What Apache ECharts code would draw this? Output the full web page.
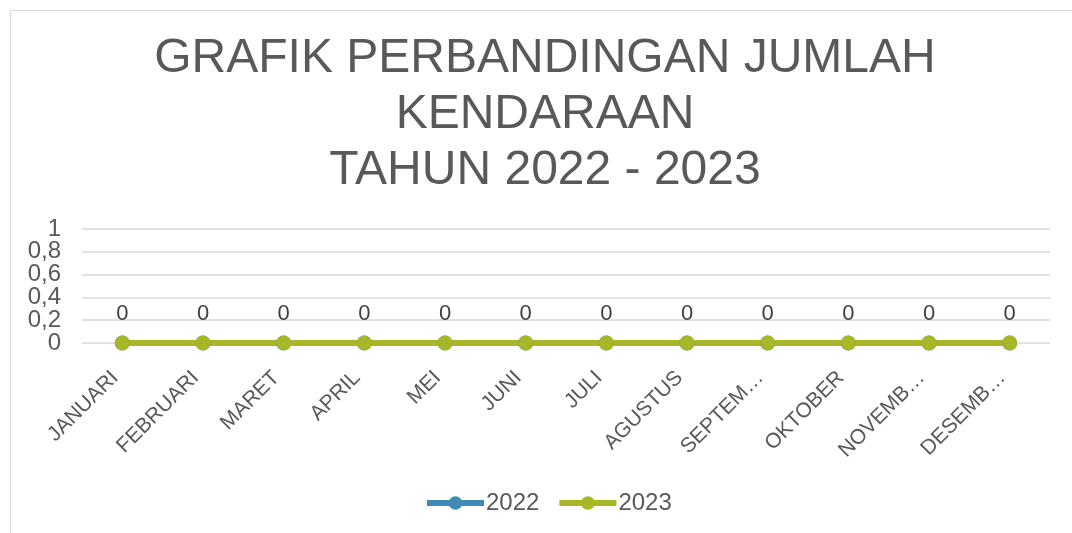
<!DOCTYPE html>
<html>
<head>
<meta charset="utf-8">
<script src="https://cdn.jsdelivr.net/npm/echarts@6/dist/echarts.min.js"></script>
<style>
  html, body { margin: 0; padding: 0; background: #fff; }
  #frame { position: absolute; left: 10px; top: 10px; width: 1100px; height: 560px; border: 1.5px solid #d9d9d9; box-sizing: border-box; }
  #chart { position: absolute; left: 0; top: 0; width: 1072px; height: 533px; }
</style>
</head>
<body>
<div id="frame"></div>
<div id="chart"></div>
<script>
const titleText = 'GRAFIK PERBANDINGAN JUMLAH\nKENDARAAN\nTAHUN 2022 - 2023';
const categories = ['JANUARI', 'FEBRUARI', 'MARET', 'APRIL', 'MEI', 'JUNI', 'JULI', 'AGUSTUS', 'SEPTEM\u2026', 'OKTOBER', 'NOVEMB\u2026', 'DESEMB\u2026'];
const seriesNames = ['2022', '2023'];
const values2022 = [0, 0, 0, 0, 0, 0, 0, 0, 0, 0, 0, 0];
const values2023 = [0, 0, 0, 0, 0, 0, 0, 0, 0, 0, 0, 0];
const yTickLabels = ['0', '0,2', '0,4', '0,6', '0,8', '1'];

const FONT = "'Liberation Sans', Arial, sans-serif";
const chart = echarts.init(document.getElementById('chart'));
chart.setOption({
  backgroundColor: 'transparent',
  animation: false,
  textStyle: { fontFamily: FONT },
  title: {
    text: titleText,
    left: 545,
    textAlign: 'center',
    top: 31,
    padding: 0,
    textStyle: { fontFamily: FONT, fontSize: 48, fontWeight: 'normal', color: '#595959', lineHeight: 56 }
  },
  grid: { left: 82, right: 22, top: 229, bottom: 190, containLabel: false },
  legend: {
    data: seriesNames,
    top: 491,
    left: 424,
    padding: 0,
    itemWidth: 57,
    itemHeight: 17,
    itemGap: 17,
    lineStyle: { width: 6 },
    textStyle: { fontFamily: FONT, fontSize: 24, color: '#595959', padding: [0, 0, 0, -3] }
  },
  xAxis: {
    type: 'category',
    data: categories,
    boundaryGap: true,
    axisLine: { show: false },
    axisTick: { show: false },
    axisLabel: { rotate: 45, fontSize: 21, color: '#595959', margin: 39, interval: 0, verticalAlign: 'bottom' }
  },
  yAxis: [
    {
      type: 'value',
      min: 0,
      max: 1,
      interval: 0.2,
      axisLine: { show: false },
      axisTick: { show: false },
      splitLine: { lineStyle: { color: '#d9d9d9', width: 1.5 } },
      axisLabel: { show: false }
    },
    {
      type: 'category',
      data: yTickLabels,
      boundaryGap: false,
      position: 'left',
      axisLine: { show: false },
      axisTick: { show: false },
      splitLine: { show: false },
      axisLabel: {
        interval: 0, showMinLabel: true, showMaxLabel: true, hideOverlap: false,
        fontSize: 24, color: '#595959', margin: 21, fontFamily: FONT
      }
    }
  ],
  series: [
    {
      name: seriesNames[0],
      type: 'line',
      data: values2022,
      color: '#418AB3',
      symbol: 'circle',
      symbolSize: 15,
      lineStyle: { width: 6, color: '#418AB3' },
      itemStyle: { color: '#418AB3' },
      label: { show: false }
    },
    {
      name: seriesNames[1],
      type: 'line',
      data: values2023,
      color: '#A6B727',
      symbol: 'circle',
      symbolSize: 15,
      lineStyle: { width: 6, color: '#A6B727' },
      itemStyle: { color: '#A6B727' },
      label: { show: true, position: 'top', distance: 11, fontSize: 22, color: '#404040', fontFamily: FONT }
    }
  ]
});
</script>
</body>
</html>
